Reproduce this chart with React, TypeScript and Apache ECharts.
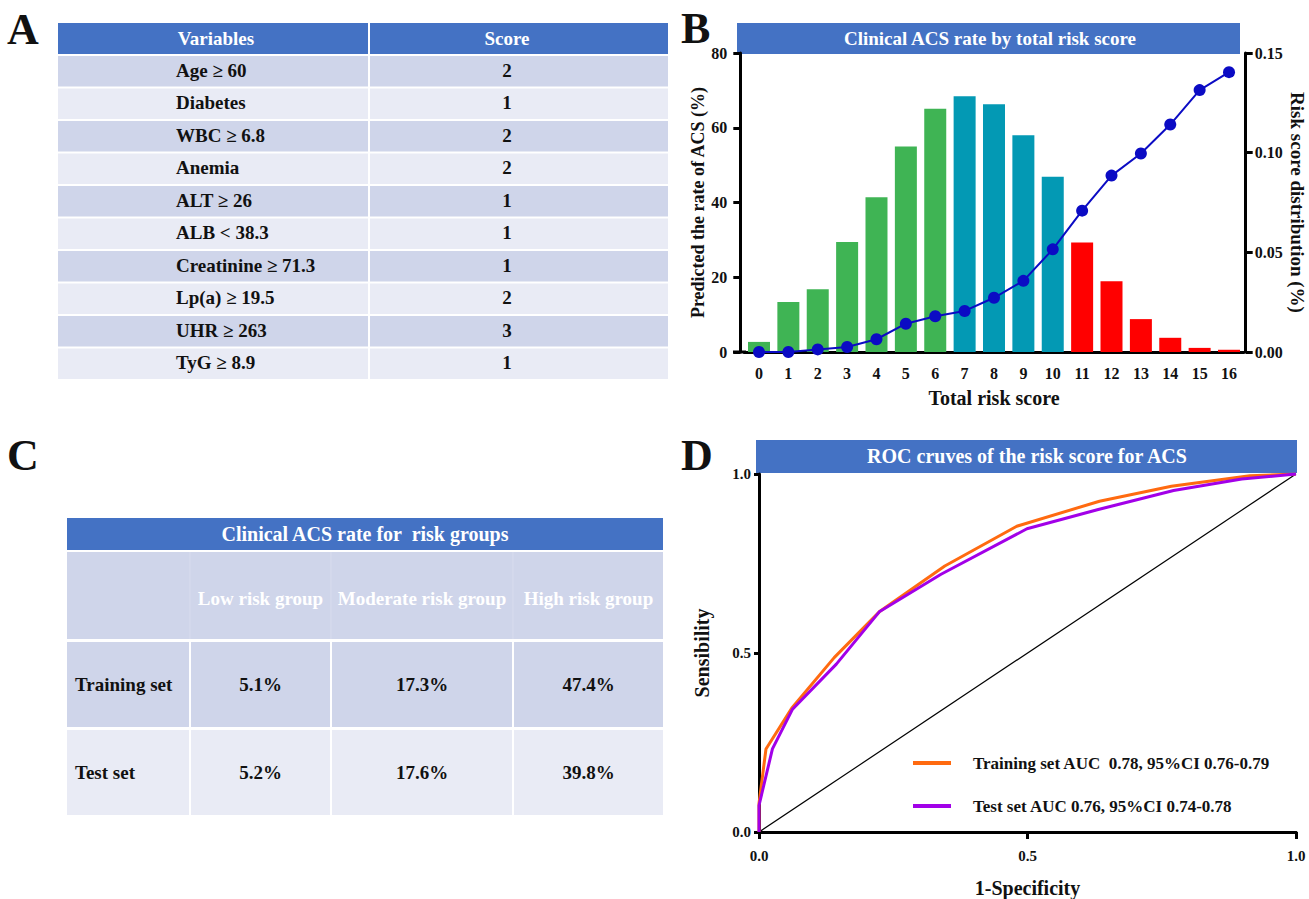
import React, { useEffect, useRef } from "react";
import * as echarts from "echarts";

const FONT = "'Liberation Serif', 'Times New Roman', Times, serif";

// ---------- Panel A data ----------
const variableNames = [
  "Age ≥ 60",
  "Diabetes",
  "WBC ≥ 6.8",
  "Anemia",
  "ALT ≥ 26",
  "ALB < 38.3",
  "Creatinine ≥ 71.3",
  "Lp(a) ≥ 19.5",
  "UHR ≥ 263",
  "TyG ≥ 8.9",
];
const variableScores = [2, 1, 2, 2, 1, 1, 1, 2, 3, 1];

// ---------- Panel B data ----------
const riskScoreCategories = ["0", "1", "2", "3", "4", "5", "6", "7", "8", "9", "10", "11", "12", "13", "14", "15", "16"];
const acsRateBars = [2.7, 13.4, 16.8, 29.4, 41.4, 55.0, 65.1, 68.4, 66.3, 58.0, 46.9, 29.3, 18.9, 8.8, 3.8, 1.1, 0.6];
const riskGroupOfScore = [
  "low", "low", "low", "low", "low", "low", "low",
  "moderate", "moderate", "moderate", "moderate",
  "high", "high", "high", "high", "high", "high",
];
const riskDistribution = [0, 0, 0.0013, 0.0025, 0.0064, 0.0142, 0.0179, 0.0206, 0.0272, 0.0357, 0.0515, 0.0709, 0.0885, 0.0996, 0.1141, 0.1314, 0.1404];

// ---------- Panel C data ----------
const groupHeaders = ["Low risk group", "Moderate risk group", "High risk group"];
const setNames = ["Training set", "Test set"];
const trainingSetRates = ["5.1%", "17.3%", "47.4%"];
const testSetRates = ["5.2%", "17.6%", "39.8%"];

// ---------- Panel D data ----------
const trainingFpr = [0, 0, 0.013, 0.062, 0.14, 0.224, 0.346, 0.48, 0.634, 0.768, 0.914, 1];
const trainingTpr = [0, 0.08, 0.232, 0.348, 0.487, 0.615, 0.743, 0.854, 0.924, 0.966, 0.995, 1];
const testFpr = [0, 0, 0.025, 0.062, 0.144, 0.224, 0.339, 0.499, 0.63, 0.772, 0.899, 1];
const testTpr = [0, 0.074, 0.232, 0.342, 0.469, 0.615, 0.72, 0.847, 0.9, 0.954, 0.986, 1];
const chanceLine = [[0, 0], [1, 1]];
const rocLegend = ["Training set AUC  0.78, 95%CI 0.76-0.79", "Test set AUC 0.76, 95%CI 0.74-0.78"];

const HEADER = "#4472C4";
const DARK = "#CFD5EA";
const LIGHT = "#E9EBF5";
const groupColors: Record<string, string> = { low: "#3FB454", moderate: "#0399B4", high: "#FF0000" };

function txt(text: string, x: number, y: number, size: number, fill: string, align = "center") {
  return {
    type: "text",
    x,
    y,
    style: {
      text,
      font: `bold ${size}px ${FONT}`,
      fill,
      align,
      verticalAlign: "middle",
      textAlign: align,
      textVerticalAlign: "middle",
    },
  };
}
function rect(x: number, y: number, w: number, h: number, fill: string) {
  return { type: "rect", shape: { x, y, width: w, height: h }, style: { fill } };
}

function buildGraphic() {
  const g: any[] = [];
  // panel letters
  g.push(txt("A", 7, 29, 44, "#111", "left"));
  g.push(txt("B", 681, 28, 44, "#111", "left"));
  g.push(txt("C", 7, 455, 44, "#111", "left"));
  g.push(txt("D", 681, 455, 44, "#111", "left"));

  // Table A
  g.push(rect(58, 23, 310, 31, HEADER));
  g.push(rect(370, 23, 298, 31, HEADER));
  g.push(txt("Variables", 216, 38, 19, "#fff"));
  g.push(txt("Score", 507, 38, 19, "#fff"));
  variableNames.forEach((name, i) => {
    const y = 56 + 32.5 * i;
    const h = 30.5;
    const fill = i % 2 === 0 ? DARK : LIGHT;
    g.push(rect(58, y, 310, h, fill));
    g.push(rect(370, y, 298, h, fill));
    g.push(txt(name, 176, y + h / 2 - 1, 19, "#111", "left"));
    g.push(txt(String(variableScores[i]), 507, y + h / 2 - 1, 19, "#111"));
  });

  // Title bar B
  g.push(rect(737, 23, 503, 31, HEADER));
  g.push(txt("Clinical ACS rate by total risk score", 990, 38, 19, "#fff"));
  // x-axis stub left of y-axis in B
  g.push({ type: "line", shape: { x1: 733, y1: 352, x2: 746, y2: 352 }, style: { stroke: "#000", lineWidth: 3 } });

  // Table C
  g.push(rect(67, 518, 596, 32, HEADER));
  g.push(txt("Clinical ACS rate for  risk groups", 365, 534, 20, "#fff"));
  const cols = [
    [67, 122],
    [191, 139],
    [332, 180],
    [514, 149],
  ];
  g.push(rect(67, 552, 596, 87, DARK));
  [190, 331, 513].forEach((x) =>
    g.push({ type: "line", shape: { x1: x, y1: 552, x2: x, y2: 639 }, style: { stroke: "#D8DCEE", lineWidth: 1 } })
  );
  groupHeaders.forEach((h, i) => {
    const [x, w] = cols[i + 1];
    g.push(txt(h, x + w / 2, 598, 19, "#fff"));
  });
  const rows = [
    { y: 642, h: 85, fill: DARK, label: setNames[0], vals: trainingSetRates },
    { y: 730, h: 85, fill: LIGHT, label: setNames[1], vals: testSetRates },
  ];
  rows.forEach((r) => {
    cols.forEach(([x, w]) => g.push(rect(x, r.y, w, r.h, r.fill)));
    g.push(txt(r.label, 75, r.y + r.h / 2, 19, "#111", "left"));
    r.vals.forEach((v, i) => {
      const [x, w] = cols[i + 1];
      g.push(txt(v, x + w / 2, r.y + r.h / 2, 19, "#111"));
    });
  });

  // Title bar D
  g.push(rect(756, 440, 541, 33, HEADER));
  g.push(txt("ROC cruves of the risk score for ACS", 1027, 456, 20, "#fff"));
  return g;
}

const axisFont = (size: number) => ({ fontFamily: FONT, fontWeight: "bold", fontSize: size, color: "#111" });

export default function App() {
  const ref = useRef<HTMLDivElement>(null);
  useEffect(() => {
    if (!ref.current) return;
    const chart = echarts.init(ref.current, undefined, { renderer: "svg" });
    const option: any = {
      animation: false,
      backgroundColor: "#fff",
      textStyle: { fontFamily: FONT },
      grid: [
        { left: 744.3, top: 53, width: 499.4, height: 299 },
        { left: 759, top: 474, width: 537, height: 359 },
      ],
      legend: {
        data: rocLegend,
        orient: "vertical",
        left: 913,
        top: 754.5,
        padding: 0,
        itemWidth: 38,
        itemHeight: 4,
        itemGap: 26,
        icon: "rect",
        selectedMode: false,
        textStyle: { ...axisFont(17), padding: [0, 0, 0, 17] },
      },
      xAxis: [
        {
          type: "category",
          gridIndex: 0,
          data: riskScoreCategories,
          boundaryGap: true,
          axisLine: { lineStyle: { color: "#000", width: 3 } },
          axisTick: { alignWithLabel: true, interval: 0, length: 7, lineStyle: { color: "#000", width: 3 } },
          axisLabel: { interval: 0, margin: 13, ...axisFont(16) },
          name: "Total risk score",
          nameLocation: "middle",
          nameGap: 36,
          nameTextStyle: axisFont(20),
        },
        {
          type: "value",
          gridIndex: 1,
          min: 0,
          max: 1,
          interval: 0.5,
          axisLine: { show: true, lineStyle: { color: "#000", width: 3 } },
          axisTick: { show: true, length: 7, lineStyle: { color: "#000", width: 3 } },
          axisLabel: { margin: 16, formatter: (v: number) => v.toFixed(1), ...axisFont(15) },
          splitLine: { show: false },
          name: "1-Specificity",
          nameLocation: "middle",
          nameGap: 46,
          nameTextStyle: axisFont(20),
        },
        {
          type: "value",
          gridIndex: 1,
          position: "top",
          min: 0,
          max: 1,
          axisLine: { show: true, lineStyle: { color: "#000", width: 3 } },
          axisTick: { show: false },
          axisLabel: { show: false },
          splitLine: { show: false },
        },
      ],
      yAxis: [
        {
          type: "value",
          gridIndex: 0,
          min: 0,
          max: 80,
          interval: 20,
          offset: 4,
          axisLine: { show: true, lineStyle: { color: "#000", width: 3 } },
          axisTick: { show: true, length: 7, lineStyle: { color: "#000", width: 3 } },
          axisLabel: { margin: 13, ...axisFont(16) },
          splitLine: { show: false },
          name: "Predicted the rate of ACS (%)",
          nameLocation: "middle",
          nameGap: 28,
          nameTextStyle: axisFont(18),
        },
        {
          type: "value",
          gridIndex: 0,
          position: "right",
          min: 0,
          max: 0.15,
          interval: 0.05,
          offset: 2,
          axisLine: { show: true, lineStyle: { color: "#000", width: 3 } },
          axisTick: { show: true, length: 7, lineStyle: { color: "#000", width: 3 } },
          axisLabel: { margin: 9, formatter: (v: number) => v.toFixed(2), ...axisFont(16) },
          splitLine: { show: false },
          name: "Risk score distribution (%)",
          nameLocation: "middle",
          nameRotate: -90,
          nameGap: 42,
          nameTextStyle: axisFont(19),
        },
        {
          type: "value",
          gridIndex: 1,
          min: 0,
          max: 1,
          interval: 0.5,
          axisLine: { show: true, lineStyle: { color: "#000", width: 3 } },
          axisTick: { show: true, length: 5, lineStyle: { color: "#000", width: 3 } },
          axisLabel: { margin: 8, formatter: (v: number) => v.toFixed(1), ...axisFont(15) },
          splitLine: { show: false },
          name: "Sensibility",
          nameLocation: "middle",
          nameGap: 47,
          nameTextStyle: axisFont(20),
        },
        {
          type: "value",
          gridIndex: 1,
          position: "right",
          min: 0,
          max: 1,
          axisLine: { show: true, lineStyle: { color: "#000", width: 1.5 } },
          axisTick: { show: false },
          axisLabel: { show: false },
          splitLine: { show: false },
        },
      ],
      series: [
        {
          type: "bar",
          xAxisIndex: 0,
          yAxisIndex: 0,
          barWidth: 22,
          data: acsRateBars.map((v, i) => ({ value: v, itemStyle: { color: groupColors[riskGroupOfScore[i]] } })),
        },
        {
          type: "line",
          xAxisIndex: 0,
          yAxisIndex: 1,
          data: riskDistribution,
          symbol: "circle",
          symbolSize: 12,
          itemStyle: { color: "#0B0BC4" },
          lineStyle: { color: "#0B0BC4", width: 2 },
          z: 5,
        },
        {
          type: "line",
          xAxisIndex: 1,
          yAxisIndex: 2,
          data: chanceLine,
          symbol: "none",
          lineStyle: { color: "#000", width: 1.2 },
          silent: true,
        },
        {
          name: rocLegend[0],
          type: "line",
          xAxisIndex: 1,
          yAxisIndex: 2,
          data: trainingFpr.map((x, i) => [x, trainingTpr[i]]),
          symbol: "none",
          itemStyle: { color: "#FF6A10" },
          lineStyle: { color: "#FF6A10", width: 3 },
        },
        {
          name: rocLegend[1],
          type: "line",
          xAxisIndex: 1,
          yAxisIndex: 2,
          data: testFpr.map((x, i) => [x, testTpr[i]]),
          symbol: "none",
          itemStyle: { color: "#A200E8" },
          lineStyle: { color: "#A200E8", width: 3 },
        },
      ],
      graphic: buildGraphic(),
    };
    chart.setOption(option);
    return () => chart.dispose();
  }, []);
  return <div ref={ref} style={{ position: "absolute", left: 0, top: 0, width: 1309, height: 899 }} />;
}
